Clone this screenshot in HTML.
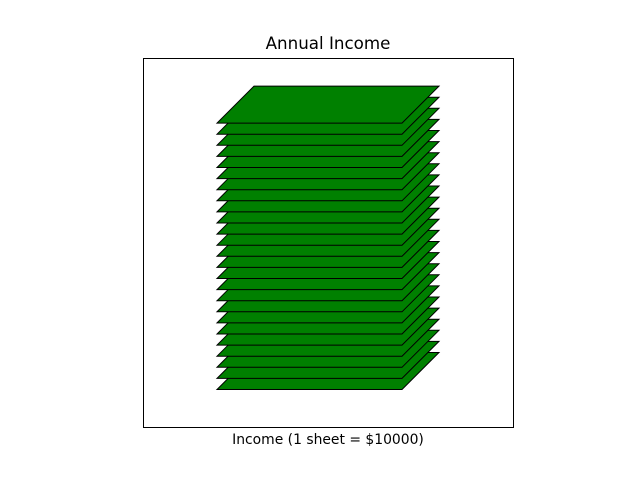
<!DOCTYPE html>
<html><head><meta charset="utf-8"><style>
body{margin:0;background:#fff;}
svg{display:block;font-family:"DejaVu Sans","Liberation Sans",sans-serif;}
</style></head><body>
<svg id="chart" width="640" height="480">
<rect x="0" y="0" width="640" height="480" fill="#fff"/>
<text x="328" y="49" text-anchor="middle" font-size="16.7">Annual Income</text>
<rect x="143.5" y="58.5" width="370" height="369" fill="none" stroke="#000" stroke-width="1"/>
<text x="328" y="444" text-anchor="middle" font-size="13.9">Income (1 sheet = $10000)</text>
<g id="sheets"></g>
</svg>
<script>
const income = [250000];
const sheetValue = [10000];
const nSheets = Math.round(income[0] / sheetValue[0]);
const baseY = 389.5, stepY = 11.1;
function yPos(i){ return baseY - i * stepY; }
const g = document.getElementById('sheets');
for (let i = 0; i < nSheets; i++) {
  const y = yPos(i);
  const p = document.createElementNS('http://www.w3.org/2000/svg','polygon');
  p.setAttribute('points', `217,${y} 402,${y} 439,${y-37} 254,${y-37}`);
  p.setAttribute('fill', '#008000');
  p.setAttribute('stroke', '#000');
  p.setAttribute('stroke-width', '1');
  
  
  g.appendChild(p);
}
</script>
</body></html>
